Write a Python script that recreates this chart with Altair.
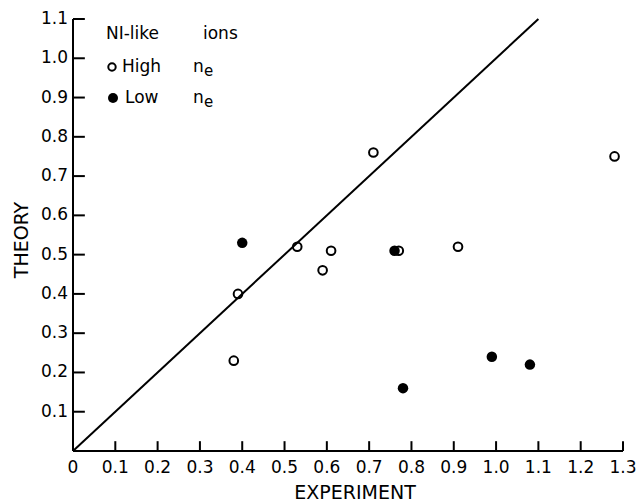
import altair as alt
import pandas as pd

# Data
high_x = [0.38, 0.39, 0.53, 0.59, 0.61, 0.71, 0.77, 0.91, 1.28]
high_y = [0.23, 0.40, 0.52, 0.46, 0.51, 0.76, 0.51, 0.52, 0.75]
low_x = [0.40, 0.76, 0.78, 0.99, 1.08]
low_y = [0.53, 0.51, 0.16, 0.24, 0.22]
line_x = [0.0, 1.1]
line_y = [0.0, 1.1]
x_ticks = [0.1, 0.2, 0.3, 0.4, 0.5, 0.6, 0.7, 0.8, 0.9, 1.0, 1.1, 1.2, 1.3]
x_labels = [0.0, 0.1, 0.2, 0.3, 0.4, 0.5, 0.6, 0.7, 0.8, 0.9, 1.0, 1.1, 1.2, 1.3]
y_ticks = [0.1, 0.2, 0.3, 0.4, 0.5, 0.6, 0.7, 0.8, 0.9, 1.0, 1.1]
x_title = ["EXPERIMENT"]
y_title = ["THEORY"]
legend_words = ["NI-like", "ions", "High", "Low", "n", "e"]

FONT = "DejaVu Sans"
W, H = 550, 432

xs = alt.Scale(domain=[0, 1.3], nice=False, zero=True)
ys = alt.Scale(domain=[0, 1.1], nice=False, zero=True)


def X(f):
    return alt.X(f, scale=xs, axis=None)


def Y(f):
    return alt.Y(f, scale=ys, axis=None)


high_df = pd.DataFrame({"x": high_x, "y": high_y})
low_df = pd.DataFrame({"x": low_x, "y": low_y})
line_df = pd.DataFrame({"x": line_x, "y": line_y})

line = alt.Chart(line_df).mark_line(color="black", strokeWidth=2).encode(
    x=X("x:Q"), y=Y("y:Q"))

low = alt.Chart(low_df).mark_circle(color="black", size=110, opacity=1).encode(
    x=X("x:Q"), y=Y("y:Q"))
high = alt.Chart(high_df).mark_point(shape="circle", filled=False, color="black",
                                     strokeWidth=2, size=75, opacity=1).encode(
    x=X("x:Q"), y=Y("y:Q"))

# axis lines
one = pd.DataFrame({"k": [0]})
x_dom = alt.Chart(one).transform_calculate(a="0", b="1.3", c="0").mark_rule(
    color="black", strokeWidth=2).encode(x=X("a:Q"), x2="b:Q", y=Y("c:Q"))
y_dom = alt.Chart(one).transform_calculate(a="0", b="1.1", c="0").mark_rule(
    color="black", strokeWidth=2).encode(y=Y("a:Q"), y2="b:Q", x=X("c:Q"))

# inward tick marks, each one a two-point line
xt = alt.Chart(pd.DataFrame({"tx": x_ticks})).transform_calculate(
    p0="0", p1="0.025"
).transform_fold(["p0", "p1"], as_=["end", "ty_pos"]).mark_line(
    color="black", strokeWidth=2
).encode(x=X("tx:Q"), y=Y("ty_pos:Q"), detail="tx:N")
yt = alt.Chart(pd.DataFrame({"ty": y_ticks})).transform_calculate(
    q0="0", q1="0.028"
).transform_fold(["q0", "q1"], as_=["end", "tx_pos"]).mark_line(
    color="black", strokeWidth=2, orient="horizontal"
).encode(y=Y("ty:Q"), x=X("tx_pos:Q"), detail="ty:N", order="tx_pos:Q")

# tick labels
xl = alt.Chart(pd.DataFrame({"v": x_labels})).transform_calculate(
    lab="datum.v == 0 ? '0' : format(datum.v, '.1f')"
).mark_text(font=FONT, fontSize=17, align="center", baseline="middle",
            color="black").encode(x=X("v:Q"), y=alt.value(H + 17), text="lab:N")
yl = alt.Chart(pd.DataFrame({"v": y_ticks})).transform_calculate(
    lab="format(datum.v, '.1f')"
).mark_text(font=FONT, fontSize=17, align="right", baseline="middle",
            color="black").encode(y=Y("v:Q"), x=alt.value(-5), text="lab:N")

# axis titles
xtt = alt.Chart(pd.DataFrame({"t": x_title})).mark_text(
    font=FONT, fontSize=19, align="center", baseline="middle", color="black"
).encode(x=alt.value(282), y=alt.value(H + 42), text="t:N")
ytt = alt.Chart(pd.DataFrame({"t": y_title})).mark_text(
    font=FONT, fontSize=19, align="center", baseline="middle", color="black", angle=270
).encode(x=alt.value(-51), y=alt.value(221), text="t:N")


def txt(t, x, y, size=17):
    return alt.Chart(one).mark_text(text=t, font=FONT, fontSize=size, align="left",
                                    baseline="middle", color="black").encode(
        x=alt.value(x), y=alt.value(y))


leg = [
    txt(legend_words[0], 33, 15),
    txt(legend_words[1], 130, 15),
    txt(legend_words[2], 49, 48),
    txt(legend_words[4], 120, 48),
    txt(legend_words[5], 131, 52, 15),
    txt(legend_words[3], 52, 79),
    txt(legend_words[4], 120, 79),
    txt(legend_words[5], 131, 83, 15),
    alt.Chart(one).mark_point(shape="circle", filled=False, color="black", strokeWidth=2,
                              size=55, opacity=1).encode(x=alt.value(39), y=alt.value(48)),
    alt.Chart(one).mark_circle(color="black", size=100, opacity=1).encode(
        x=alt.value(40), y=alt.value(79)),
]

chart = alt.layer(x_dom, y_dom, xt, yt, xl, yl, xtt, ytt, line, low, high, *leg).properties(
    width=W, height=H,
    autosize=alt.AutoSizeParams(type="none"),
    padding={"left": 73, "top": 19, "right": 16, "bottom": 52},
).configure_view(stroke=None)

chart.save("out.html", embed_options={"renderer": "svg", "actions": False})
